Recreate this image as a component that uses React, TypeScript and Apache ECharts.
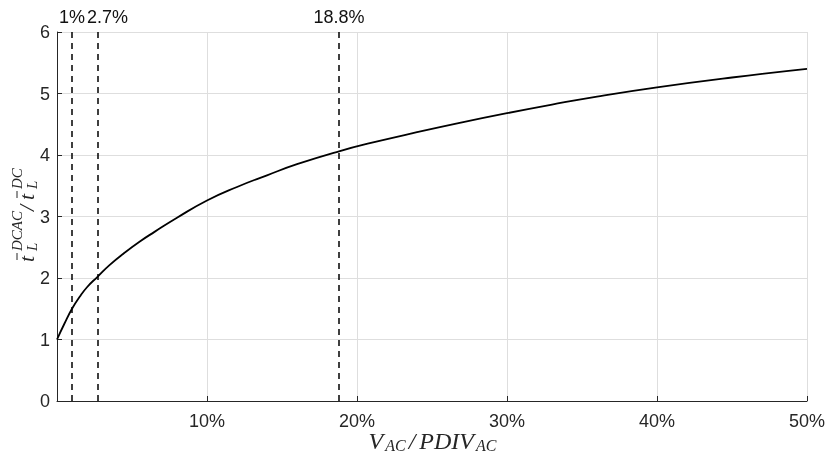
import React, { useEffect, useRef } from "react";
import * as echarts from "echarts";

// x: V_AC / PDIV_AC in percent, y: ratio of lifetimes
const xPercent = [0, 0.5, 1, 1.5, 2, 2.7, 3.5, 4.5, 5.5, 6.5, 8, 10, 12, 14, 16, 18.8, 21, 24, 27, 30, 33, 36, 40, 45, 50];
const ratio = [1.0, 1.26, 1.5, 1.69, 1.85, 2.02, 2.21, 2.41, 2.59, 2.75, 2.98, 3.26, 3.48, 3.67, 3.85, 4.06, 4.2, 4.37, 4.53, 4.68, 4.82, 4.95, 5.1, 5.26, 5.4];

const markerX = [1, 2.7, 18.8];
const markerLabels = ["1%", "2.7%", "18.8%"];

const SERIF = "'Liberation Serif', 'DejaVu Serif', serif";
const SANS = "'Liberation Sans', Arial, Helvetica, sans-serif";
const INK = "#262626";

export default function App() {
  const ref = useRef<HTMLDivElement>(null);
  useEffect(() => {
    const chart = echarts.init(ref.current!, null, { renderer: "svg" });
    const mainStyle = (text: string) => ({
      text,
      fill: INK,
      fontFamily: SERIF,
      fontStyle: "italic",
      fontSize: 22,
      verticalAlign: "bottom",
    });
    const scriptStyle = (text: string) => ({
      text,
      fill: INK,
      fontFamily: SERIF,
      fontStyle: "italic",
      fontSize: 15,
      verticalAlign: "bottom",
    });
    chart.setOption({
      animation: false,
      grid: { left: 57, right: 22, top: 32, bottom: 59, containLabel: false, outerBoundsMode: "none" },
      xAxis: {
        type: "value",
        min: 0,
        max: 50,
        interval: 10,
        name: "{m|V}{s|AC}{m|/}{m|PDIV}{s|AC}",
        nameLocation: "middle",
        nameGap: 28,
        nameMoveOverlap: false,
        nameTextStyle: {
          verticalAlign: "top",
          rich: {
            m: { fontFamily: SERIF, fontStyle: "italic", fontSize: 24, lineHeight: 24, color: INK, padding: [0, 2, 0, 2] },
            s: { fontFamily: SERIF, fontStyle: "italic", fontSize: 16, lineHeight: 12, verticalAlign: "bottom", color: INK, padding: [0, 1, 0, 0] },
          },
        },
        axisLine: { show: true, lineStyle: { color: INK, width: 1 } },
        axisTick: { show: true, inside: true, length: 5, lineStyle: { color: INK } },
        axisLabel: {
          formatter: (v: number) => (v === 0 ? "" : v + "%"),
          color: INK,
          fontFamily: SANS,
          fontSize: 18,
          margin: 11,
        },
        splitLine: { show: true, lineStyle: { color: "#dedede", width: 1 } },
      },
      yAxis: {
        type: "value",
        min: 0,
        max: 6,
        interval: 1,
        axisLine: { show: true, lineStyle: { color: INK, width: 1 } },
        axisTick: { show: true, inside: true, length: 5, lineStyle: { color: INK } },
        axisLabel: { color: INK, fontFamily: SANS, fontSize: 18, margin: 7 },
        splitLine: { show: true, lineStyle: { color: "#dedede", width: 1 } },
      },
      graphic: [
        {
          type: "group",
          x: 32,
          y: 262,
          rotation: Math.PI / 2,
          children: [
            { type: "text", x: 0, y: 5, style: mainStyle("t") },
            { type: "line", shape: { x1: 2, y1: -15, x2: 9, y2: -15 }, style: { stroke: INK, lineWidth: 1 } },
            { type: "text", x: 11, y: -8, style: scriptStyle("DCAC") },
            { type: "text", x: 11, y: 7, style: scriptStyle("L") },
            { type: "text", x: 51, y: 5, style: mainStyle("/") },
            { type: "text", x: 62, y: 5, style: mainStyle("t") },
            { type: "line", shape: { x1: 64, y1: -15, x2: 71, y2: -15 }, style: { stroke: INK, lineWidth: 1 } },
            { type: "text", x: 73, y: -8, style: scriptStyle("DC") },
            { type: "text", x: 73, y: 7, style: scriptStyle("L") },
          ],
        },
      ],
      series: [
        {
          type: "line",
          data: xPercent.map((x, i) => [x, ratio[i]]),
          showSymbol: false,
          smooth: 0.5,
          lineStyle: { color: "#000", width: 1.8 },
          markLine: {
            silent: true,
            symbol: "none",
            lineStyle: { type: [6, 5], color: "#000", width: 1.5 },
            label: { position: "end", color: "#111", fontFamily: SANS, fontSize: 18, distance: 6 },
            data: markerX.map((m, i) => ({
              xAxis: m,
              label: { formatter: markerLabels[i], offset: i === 1 ? [10, 0] : [0, 0] },
            })),
          },
        },
      ],
    });
    return () => chart.dispose();
  }, []);
  return <div ref={ref} style={{ position: "fixed", left: 0, top: 0, width: 829, height: 460 }} />;
}
